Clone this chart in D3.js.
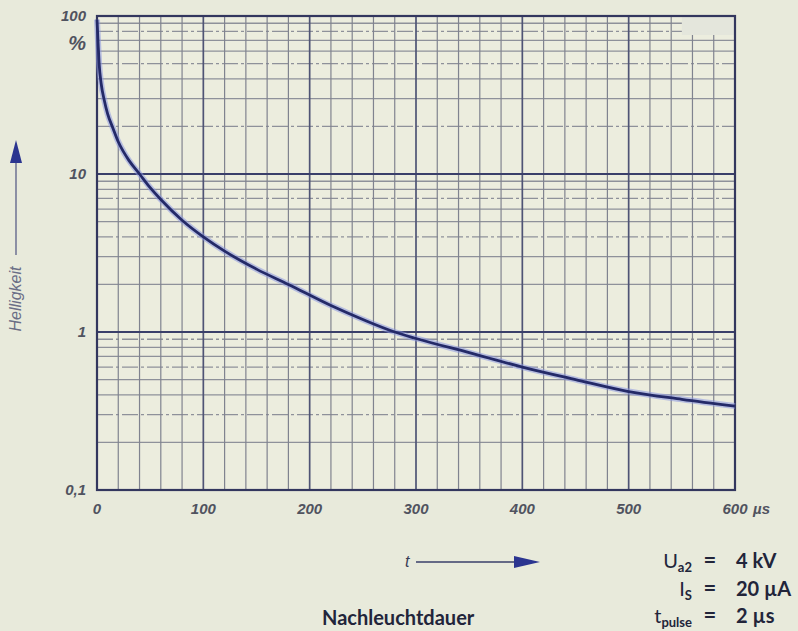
<!DOCTYPE html>
<html>
<head>
<meta charset="utf-8">
<script src="https://cdn.jsdelivr.net/npm/d3@7"></script>
<style>
  html, body { margin: 0; padding: 0; background: #e8eadb; }
  svg { display: block; }
</style>
</head>
<body>
<div id="chart"></div>
<script>
// afterglow curve
var times  = [0, 1, 2, 4, 7, 10, 15, 20, 25, 30, 40, 50, 60, 80, 100, 120, 150, 180, 220, 250, 280, 300, 350, 400, 450, 500, 550, 600];
var bright = [95, 68, 50, 37, 29, 24, 19.5, 16, 13.8, 12.2, 10, 8.2, 6.9, 5.1, 4.0, 3.25, 2.5, 2.0, 1.47, 1.2, 1.0, 0.91, 0.74, 0.6, 0.5, 0.42, 0.375, 0.34];

var xTicks = [0, 100, 200, 300, 400, 500, 600];
var yTicks = [0.1, 1, 10, 100];
var yTickLabels = ["0,1", "1", "10", "100"];

var params = [
  {name: "U", sub: "a2", value: "4 kV"},
  {name: "I", sub: "S", value: "20 µA"},
  {name: "t", sub: "pulse", value: "2 µs"}
];

var W = 798, H = 631;
var svg = d3.select("#chart").append("svg")
    .attr("width", W)
    .attr("height", H);

var x = d3.scaleLinear().domain([0, 600]).range([97, 735]);
var y = d3.scaleLog().domain([0.1, 100]).range([490, 16]);

// plot paper
svg.append("rect")
    .attr("x", x(0)).attr("y", y(100))
    .attr("width", x(600) - x(0)).attr("height", y(0.1) - y(100))
    .attr("fill", "#ecedde");

var grid = svg.append("g");

// minor horizontal lines 2..9 in every decade
var minorY = [];
[0.1, 1, 10].forEach(function(d) {
  for (var k = 2; k <= 9; k++) minorY.push(d * k);
});
grid.selectAll("line.hmin").data(minorY)
  .enter().append("line")
    .attr("class", "hmin")
    .attr("x1", x(0)).attr("x2", x(600))
    .attr("y1", function(d) { return y(d); })
    .attr("y2", function(d) { return y(d); })
    .attr("stroke", "#8e919a")
    .attr("stroke-width", 1.3)
    .attr("stroke-dasharray", function(d, i) { return i % 3 == 1 ? "16,3,3,3" : null; });

// vertical lines every 20 µs
grid.selectAll("line.v").data(d3.range(20, 600, 20))
  .enter().append("line")
    .attr("class", "v")
    .attr("y1", y(100)).attr("y2", y(0.1))
    .attr("x1", function(d) { return x(d); })
    .attr("x2", function(d) { return x(d); })
    .attr("stroke", function(d) { return d % 100 == 0 ? "#4f5475" : "#80838f"; })
    .attr("stroke-width", function(d) { return d % 100 == 0 ? 1.7 : 1.2; });

// decade lines
grid.selectAll("line.hmaj").data([1, 10])
  .enter().append("line")
    .attr("class", "hmaj")
    .attr("x1", x(0)).attr("x2", x(600))
    .attr("y1", function(d) { return y(d); })
    .attr("y2", function(d) { return y(d); })
    .attr("stroke", "#3a3f6a")
    .attr("stroke-width", 2);

// small stamp box, top right
svg.append("rect")
    .attr("x", x(550)).attr("y", y(100) + 1)
    .attr("width", x(600) - x(550) - 1).attr("height", 18)
    .attr("fill", "#e4e6dc");

// frame
svg.append("rect")
    .attr("x", x(0)).attr("y", y(100))
    .attr("width", x(600) - x(0)).attr("height", y(0.1) - y(100))
    .attr("fill", "none")
    .attr("stroke", "#33375e")
    .attr("stroke-width", 2.2);

// curve
var line = d3.line()
    .x(function(d, i) { return x(times[i]); })
    .y(function(d) { return y(d); })
    .curve(d3.curveMonotoneX);

svg.append("path")
    .attr("d", line(bright))
    .attr("fill", "none")
    .attr("stroke", "#8a96e0")
    .attr("stroke-opacity", 0.55)
    .attr("stroke-width", 6);
svg.append("path")
    .attr("d", line(bright))
    .attr("fill", "none")
    .attr("stroke", "#242a68")
    .attr("stroke-width", 2.8);

// tick labels
var tickFont = "'Liberation Sans Narrow', 'Arial Narrow', sans-serif";
svg.selectAll("text.ylab").data(yTicks)
  .enter().append("text")
    .attr("class", "ylab")
    .attr("x", 86)
    .attr("y", function(d) { return y(d) + 5; })
    .attr("text-anchor", "end")
    .style("font-family", tickFont)
    .style("font-style", "italic")
    .style("font-weight", "bold")
    .style("font-size", "15px")
    .attr("fill", "#50535f")
    .text(function(d, i) { return yTickLabels[i]; });

svg.append("text")
    .attr("x", 86).attr("y", 50)
    .attr("text-anchor", "end")
    .style("font-family", tickFont)
    .style("font-style", "italic")
    .style("font-weight", "bold")
    .style("font-size", "20px")
    .attr("fill", "#50535f")
    .text("%");

svg.selectAll("text.xlab").data(xTicks)
  .enter().append("text")
    .attr("class", "xlab")
    .attr("x", function(d) { return x(d); })
    .attr("y", 514)
    .attr("text-anchor", "middle")
    .style("font-family", tickFont)
    .style("font-style", "italic")
    .style("font-weight", "bold")
    .style("font-size", "15px")
    .attr("fill", "#50535f")
    .text(function(d) { return d; });

svg.append("text")
    .attr("x", x(600) + 18).attr("y", 514)
    .style("font-family", tickFont)
    .style("font-style", "italic")
    .style("font-weight", "bold")
    .style("font-size", "15px")
    .attr("fill", "#50535f")
    .text("µs");

// y axis title with arrow
svg.append("line")
    .attr("x1", 16).attr("x2", 16)
    .attr("y1", 255).attr("y2", 152)
    .attr("stroke", "#5a5f88")
    .attr("stroke-width", 1.3);
svg.append("path")
    .attr("d", "M16,140 L22,163 L10,163 Z")
    .attr("fill", "#2b3590");
svg.append("text")
    .attr("transform", "translate(21,299) rotate(-90)")
    .attr("text-anchor", "middle")
    .style("font-family", tickFont)
    .style("font-style", "italic")
    .style("font-size", "16px")
    .attr("fill", "#6a6e86")
    .text("Helligkeit");

// x axis title with arrow
svg.append("text")
    .attr("x", 405).attr("y", 567)
    .style("font-family", tickFont)
    .style("font-style", "italic")
    .style("font-size", "16px")
    .attr("fill", "#3a3d55")
    .text("t");
svg.append("line")
    .attr("x1", 416).attr("x2", 516)
    .attr("y1", 562).attr("y2", 562)
    .attr("stroke", "#3a3f6a")
    .attr("stroke-width", 1.5);
svg.append("path")
    .attr("d", "M540,562 L514,556 L514,568 Z")
    .attr("fill", "#2b3590");

var labelFont = "Lato, 'Open Sans', sans-serif";
svg.append("text")
    .attr("x", 322).attr("y", 625)
    .style("font-family", labelFont)
    .style("font-weight", "bold")
    .style("font-size", "20px")
    .attr("fill", "#22253a")
    .text("Nachleuchtdauer");

// operating conditions
var rows = svg.selectAll("g.param").data(params)
  .enter().append("g")
    .attr("class", "param")
    .attr("transform", function(d, i) { return "translate(0," + [568, 596, 623][i] + ")"; })
    .style("font-family", labelFont)
    .style("font-size", "20px")
    .attr("fill", "#22253a");

var nameText = rows.append("text")
    .attr("x", 692)
    .attr("text-anchor", "end");
nameText.append("tspan").text(function(d) { return d.name; });
nameText.append("tspan")
    .attr("dy", 4)
    .style("font-size", "13px")
    .style("font-weight", "bold")
    .text(function(d) { return d.sub; });

rows.append("text")
    .attr("x", 710)
    .attr("text-anchor", "middle")
    .style("font-weight", "bold")
    .style("font-size", "22px")
    .text("=");

rows.append("text")
    .attr("x", 736)
    .style("font-weight", "bold")
    .text(function(d) { return d.value; });
</script>
</body>
</html>
